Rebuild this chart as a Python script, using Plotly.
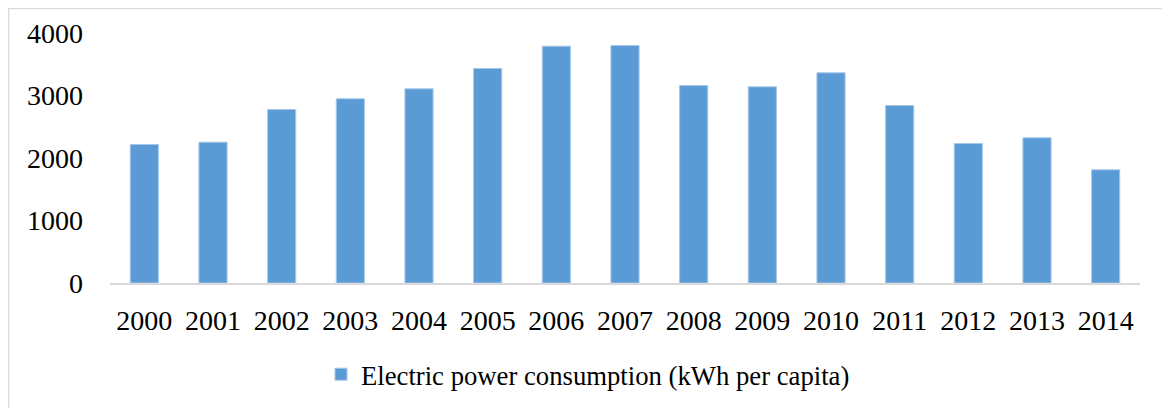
import plotly.graph_objects as go

years = ["2000", "2001", "2002", "2003", "2004", "2005", "2006", "2007",
         "2008", "2009", "2010", "2011", "2012", "2013", "2014"]
consumption = [2216, 2253, 2776, 2947, 3107, 3432, 3789, 3800,
               3160, 3139, 3363, 2840, 2232, 2323, 1811]
series_name = "Electric power consumption (kWh per capita)"
y_ticks = [0, 1000, 2000, 3000, 4000]

# page body has an 8px margin, so the figure is offset by (8, 8)
OFF = 8
W, H = 1170 - OFF, 408 - OFF
L, R, T, B = 110 - OFF, 30, 33 - OFF, 124.5
pw, ph = W - L - R, H - T - B

def px_x(x):  # page x -> paper
    return (x - OFF - L) / pw

def px_y(y):  # page y -> paper
    return (H - B - (y - OFF)) / ph

fig = go.Figure(go.Bar(
    x=years, y=consumption, name=series_name,
    marker=dict(color="#5b9bd5", line=dict(color="#a7c7e7", width=1)),
    showlegend=True,
))

font_family = "Liberation Serif, Times New Roman, serif"
fig.update_layout(
    width=W, height=H,
    margin=dict(l=L, r=R, t=T, b=B, autoexpand=False),
    paper_bgcolor="white", plot_bgcolor="white",
    bargap=0.59,
    font=dict(family=font_family, size=28, color="black"),
    xaxis=dict(showline=True, linecolor="#d9d9d9", linewidth=2,
               ticks="", showgrid=False, tickfont=dict(size=28),
               ticklabelstandoff=11),
    yaxis=dict(range=[0, 4000], tickvals=y_ticks, showgrid=False,
               zeroline=False, showline=False, ticks="",
               tickfont=dict(size=28), ticklabelstandoff=26),
    legend=dict(orientation="h", x=px_x(588), xanchor="center",
                y=px_y(375), yanchor="middle",
                font=dict(size=26.7), itemwidth=30),
    shapes=[dict(type="rect", xref="paper", yref="paper",
                 x0=px_x(8.5), x1=px_x(1167.5), y0=px_y(412), y1=px_y(8.5),
                 line=dict(color="#d9d9d9", width=1.5), layer="below")],
)

fig.write_html("out.html")
